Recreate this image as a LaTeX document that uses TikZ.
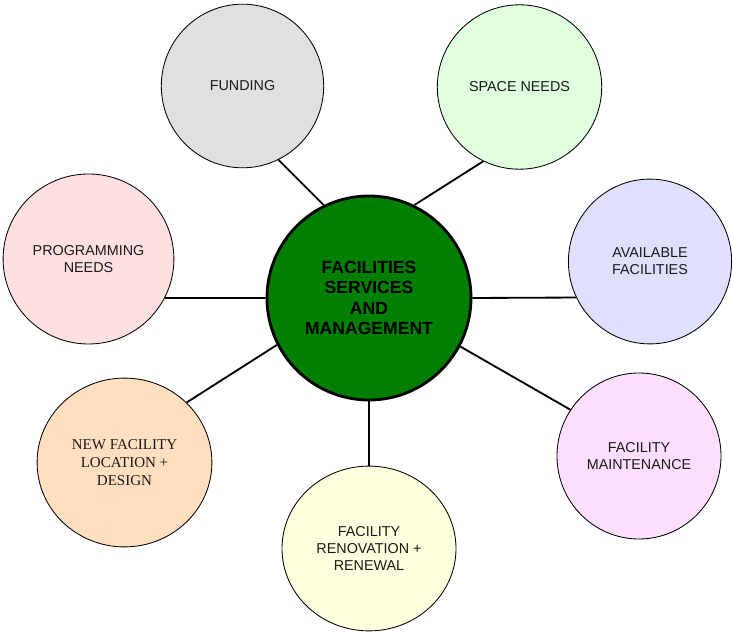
\documentclass[tikz,border=0pt]{standalone}
\usepackage{fontspec}
\setmainfont{Liberation Sans}
\newfontfamily\serifbox{Liberation Serif}
\usetikzlibrary{shapes.geometric}

\definecolor{hubgreen}{HTML}{007F00}
\definecolor{fundfill}{HTML}{E0E0E0}
\definecolor{spacefill}{HTML}{DFFFDF}
\definecolor{availfill}{HTML}{DFDFFF}
\definecolor{maintfill}{HTML}{FFDFFF}
\definecolor{renovfill}{HTML}{FFFFDF}
\definecolor{newfill}{HTML}{FFDFBF}
\definecolor{progfill}{HTML}{FFDFDF}

\begin{document}
\begin{tikzpicture}[x=0.25mm, y=-0.25mm, inner sep=0pt,
    bubble/.style={ellipse, draw, line width=0.6pt, align=center,
      text=black!90, font=\fontsize{10.2}{11.9}\selectfont},
    hub/.style={circle, draw, line width=2pt, fill=hubgreen, align=center,
      minimum size=51mm, font=\bfseries\fontsize{12.5}{14.4}\selectfont},
    link/.style={line width=1.3pt}]
    \useasboundingbox (0,0) rectangle (733,633);

    \node[hub] at (369,298) (fsm) {FACILITIES\\SERVICES\\AND\\MANAGEMENT};
    \node[bubble, fill=fundfill, minimum width=40.6mm, minimum height=40.9mm]
      at (242.5,86) (fund) {FUNDING};
    \node[bubble, fill=spacefill, minimum width=41.1mm, minimum height=41.1mm]
      at (519.5,87) (space) {SPACE NEEDS};
    \node[bubble, fill=availfill, minimum width=40.8mm, minimum height=41.2mm]
      at (650,261.5) (avail) {AVAILABLE\\FACILITIES};
    \node[bubble, fill=maintfill, minimum width=41mm, minimum height=41.5mm]
      at (639,456) (maint) {FACILITY\\MAINTENANCE};
    \node[bubble, fill=renovfill, minimum width=43.5mm, minimum height=41.2mm]
      at (369,548.5) (renov) {FACILITY\\RENOVATION +\\RENEWAL};
    \node[bubble, fill=newfill, minimum width=43.7mm, minimum height=42.2mm,
      font=\serifbox\fontsize{10.7}{12.7}\selectfont]
      at (124.5,462.5) (newfac) {NEW FACILITY\\LOCATION +\\DESIGN};
    \node[bubble, fill=progfill, minimum width=42.7mm, minimum height=42.5mm]
      at (88.5,259) (prog) {PROGRAMMING\\NEEDS};

    \draw[link] (fund.-64) -- (fsm.116);
    \draw[link] (space.-116) -- (fsm.64);
    \draw[link] (prog.-27) -- (fsm.180);
    \draw[link] (avail.-154) -- (fsm.0);
    \draw[link] (maint.146) -- (fsm.-28);
    \draw[link] (renov.90) -- (fsm.-90);
    \draw[link] (newfac.44) -- (fsm.-153);
\end{tikzpicture}
\end{document}
